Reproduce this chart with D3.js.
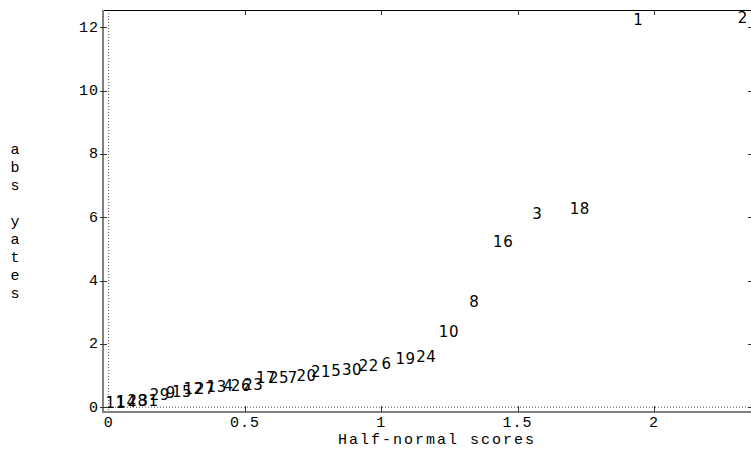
<!DOCTYPE html>
<html>
<head>
<meta charset="utf-8">
<script src="https://cdn.jsdelivr.net/npm/d3@7"></script>
<style>
  html, body { margin: 0; padding: 0; background: #fff; }
  svg { display: block; }
  text { fill: #000; }
</style>
</head>
<body>
<svg id="chart" width="751" height="454"></svg>
<script>
// ---- data ----
const effectLabels = ["11","14","28","31","29","9","15","12","27","13","4","26","23","17","25","7","20","21","5","30","22","6","19","24","10","8","16","3","18","1","2"];
const halfNormalScores = [0.025,0.065,0.106,0.146,0.187,0.228,0.269,0.311,0.353,0.396,0.440,0.485,0.530,0.577,0.625,0.675,0.726,0.779,0.835,0.893,0.954,1.019,1.089,1.165,1.248,1.341,1.447,1.572,1.728,1.943,2.326];
const absYates = [0.14,0.17,0.20,0.20,0.38,0.44,0.48,0.57,0.58,0.65,0.66,0.67,0.70,0.92,0.92,0.93,0.99,1.10,1.15,1.18,1.30,1.36,1.52,1.57,2.36,3.33,5.23,6.10,6.27,12.23,12.29];
const xTicks = [0, 0.5, 1, 1.5, 2];
const xTickLabels = ["0", "0.5", "1", "1.5", "2"];
const yTicks = [0, 2, 4, 6, 8, 10, 12];
const xTitle = "Half-normal scores";
const yTitle = "abs yates";

const svg = d3.select("#chart");
const frame = { left: 103, right: 752, top: 10, bottom: 412 };

const x = d3.scaleLinear().domain([0, 2]).range([108.7, 653.9]);
const y = d3.scaleLinear().domain([0, 12]).range([407.2, 27.2]);

const mono = "'Liberation Mono', 'Courier New', monospace";

// dotted reference lines at 0
svg.append("line")
  .attr("x1", x(0)).attr("x2", x(0))
  .attr("y1", frame.top).attr("y2", frame.bottom)
  .attr("stroke", "#555").attr("stroke-width", 1).attr("stroke-dasharray", "1,2");
svg.append("line")
  .attr("x1", frame.left).attr("x2", frame.right)
  .attr("y1", y(0)).attr("y2", y(0))
  .attr("stroke", "#555").attr("stroke-width", 1).attr("stroke-dasharray", "1,2");

// frame
svg.append("line").attr("x1", frame.left).attr("x2", frame.right).attr("y1", frame.top + 0.5).attr("y2", frame.top + 0.5)
  .attr("stroke", "#000").attr("stroke-width", 1);
svg.append("line").attr("x1", frame.right).attr("x2", frame.right).attr("y1", frame.top).attr("y2", frame.bottom)
  .attr("stroke", "#000").attr("stroke-width", 1);
svg.append("line").attr("x1", frame.left).attr("x2", frame.left).attr("y1", frame.top).attr("y2", frame.bottom + 1)
  .attr("stroke", "#808080").attr("stroke-width", 2);
svg.append("line").attr("x1", frame.left).attr("x2", frame.right).attr("y1", frame.bottom).attr("y2", frame.bottom)
  .attr("stroke", "#808080").attr("stroke-width", 2);

// x ticks (bottom, inward) and top ticks
const xg = svg.append("g");
xg.selectAll("line.b").data(xTicks.slice(1)).join("line")
  .attr("x1", d => Math.round(x(d)) + 0.5).attr("x2", d => Math.round(x(d)) + 0.5)
  .attr("y1", frame.bottom).attr("y2", frame.bottom - 6)
  .attr("stroke", "#333").attr("stroke-width", 1);
xg.selectAll("line.t").data(xTicks.slice(1)).join("line")
  .attr("x1", d => Math.round(x(d)) + 0.5).attr("x2", d => Math.round(x(d)) + 0.5)
  .attr("y1", frame.top).attr("y2", frame.top + 5)
  .attr("stroke", "#333").attr("stroke-width", 1);
xg.selectAll("text").data(xTicks).join("text")
  .attr("x", d => x(d)).attr("y", 423)
  .attr("text-anchor", "middle").attr("dominant-baseline", "central")
  .style("font-family", mono).style("font-size", "15px").style("letter-spacing", "1px")
  .text((d, i) => xTickLabels[i]);

// y ticks (left outward, right inward)
const yg = svg.append("g");
yg.selectAll("line.l").data(yTicks).join("line")
  .attr("x1", frame.left - 3).attr("x2", frame.left + 4)
  .attr("y1", d => Math.round(y(d)) + 0.5).attr("y2", d => Math.round(y(d)) + 0.5)
  .attr("stroke", "#333").attr("stroke-width", 1);
yg.selectAll("line.r").data(yTicks).join("line")
  .attr("x1", frame.right - 4).attr("x2", frame.right)
  .attr("y1", d => Math.round(y(d)) + 0.5).attr("y2", d => Math.round(y(d)) + 0.5)
  .attr("stroke", "#333").attr("stroke-width", 1);
yg.selectAll("text").data(yTicks).join("text")
  .attr("x", 99).attr("y", d => y(d) + 1)
  .attr("text-anchor", "end").attr("dominant-baseline", "central")
  .style("font-family", mono).style("font-size", "15px").style("letter-spacing", "1px")
  .text(d => d);

// axis titles
svg.append("text")
  .attr("x", 437).attr("y", 440)
  .attr("text-anchor", "middle").attr("dominant-baseline", "central")
  .style("font-family", mono).style("font-size", "15px").style("letter-spacing", "2px")
  .text(xTitle);
svg.append("g").selectAll("text").data(yTitle.split("")).join("text")
  .attr("x", 15).attr("y", (d, i) => 150 + i * 18.1)
  .attr("text-anchor", "middle").attr("dominant-baseline", "central")
  .style("font-family", mono).style("font-size", "15px")
  .text(d => d);

// point labels
svg.append("g").selectAll("text").data(effectLabels).join("text")
  .attr("x", (d, i) => x(halfNormalScores[i]))
  .attr("y", (d, i) => y(absYates[i]))
  .attr("text-anchor", "middle").attr("dominant-baseline", "central")
  .style("font-family", "'DejaVu Sans', sans-serif").style("font-size", "15px").style("letter-spacing", "0.5px")
  .text(d => d);
</script>
</body>
</html>
